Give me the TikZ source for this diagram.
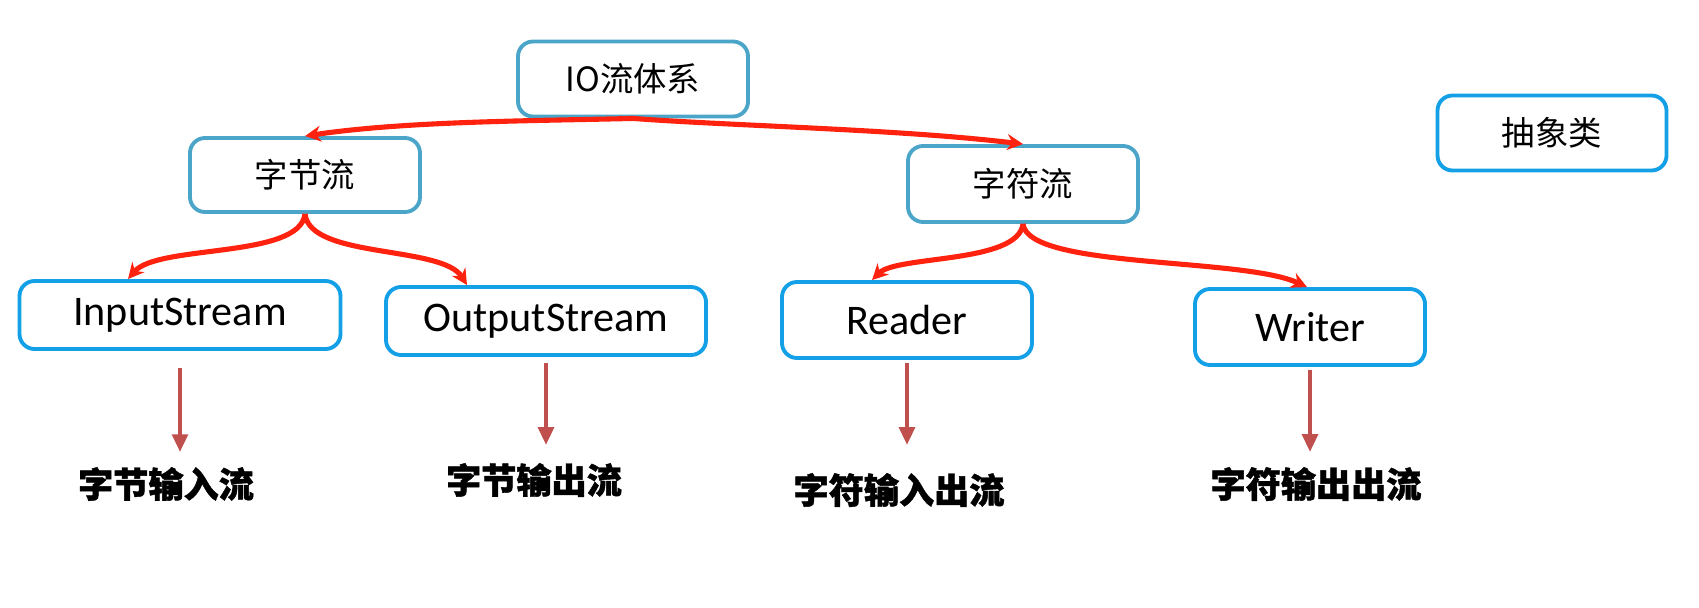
\documentclass[tikz,border=0pt]{standalone}
\usepackage{fontspec}
\setmainfont{Carlito}
\newfontfamily\cjk{Noto Sans CJK SC}[BoldFeatures={FakeBold=1.2}]
\usetikzlibrary{arrows.meta,positioning,calc}
\definecolor{topblue}{RGB}{75,165,200}
\definecolor{boxblue}{RGB}{20,160,230}
\definecolor{linkred}{RGB}{255,35,15}
\definecolor{downred}{RGB}{192,80,77}
\tikzstyle{topbox} = [draw=topblue, line width=2.2pt, rounded corners=0.3cm, fill=white, minimum width=4.6cm, minimum height=1.5cm, font=\cjk\fontsize{19}{23}\selectfont]
\tikzstyle{classbox} = [draw=boxblue, line width=2.2pt, rounded corners=0.3cm, fill=white, minimum height=1.36cm, font=\fontsize{24}{28}\selectfont]
\tikzstyle{redlink} = [draw=linkred, line width=2.9pt, -{Stealth[length=9pt,width=9pt]}]
\tikzstyle{downarrow} = [draw=downred, line width=1.9pt, -{Triangle[length=10pt,width=9pt]}]
\tikzstyle{streamtext} = [inner sep=0pt, font=\cjk\bfseries\fontsize{20}{24}\selectfont]

\begin{document}
\begin{tikzpicture}
    \useasboundingbox (0,0) rectangle (33.98,12.14);

    % Root and the two stream kinds
    \node[topbox] (io) at (12.66,10.56) {IO流体系};
    \node[topbox, minimum height=1.48cm] (bytes) at (6.10,8.64) {字节流};
    \node[topbox, minimum height=1.52cm] (chars) at (20.46,8.46) {字符流};

    % Legend
    \node[classbox, minimum width=4.58cm, minimum height=1.5cm, font=\cjk\fontsize{19}{23}\selectfont] (abs) at (31.04,9.48) {抽象类};

    % Abstract classes
    \node[classbox, minimum width=6.42cm] (ins) at (3.60,5.84) {InputStream};
    \node[classbox, minimum width=6.4cm] (outs) at (10.92,5.72) {OutputStream};
    \node[classbox, minimum width=5.0cm, minimum height=1.52cm] (rd) at (18.14,5.74) {Reader};
    \node[classbox, minimum width=4.6cm, minimum height=1.52cm] (wr) at (26.20,5.60) {Writer};

    % Descriptions
    \node[streamtext] (insl) at (3.32,2.46) {字节输入流};
    \node[streamtext] (outsl) at (10.68,2.54) {字节输出流};
    \node[streamtext] (rdl) at (17.98,2.34) {字符输入出流};
    \node[streamtext] (wrl) at (26.32,2.46) {字符输出出流};

    % Branches from the root
    \draw[redlink] (io.south) .. controls +(-2,-0.05) and +(2,0.3) .. (bytes.north);
    \draw[redlink] (io.south) .. controls +(2,-0.15) and +(-2.5,0.3) .. (chars.north);

    % Byte streams
    \draw[redlink] (bytes.south) .. controls +(-0.1,-0.9) and +(0.6,0.7) .. ([xshift=-1.04cm]ins.north);
    \draw[redlink] (bytes.south) .. controls +(0.1,-0.9) and +(-0.5,0.8) .. ([xshift=-1.58cm]outs.north);

    % Character streams
    \draw[redlink] (chars.south) .. controls +(-0.1,-0.8) and +(0.5,0.5) .. ([xshift=-0.7cm]rd.north);
    \draw[redlink] (chars.south) .. controls +(0.1,-0.9) and +(-1.3,0.6) .. ([xshift=-0.06cm]wr.north);

    % Meaning of each class
    \draw[downarrow, shorten <=0.34cm, shorten >=0.30cm] (ins.south) -- (ins.south |- insl.north);
    \draw[downarrow, shorten <=0.12cm, shorten >=0.36cm] (outs.south) -- (outs.south |- outsl.north);
    \draw[downarrow, shorten <=0.06cm, shorten >=0.56cm] (rd.south) -- (rd.south |- rdl.north);
    \draw[downarrow, shorten <=0.06cm, shorten >=0.30cm] (wr.south) -- (wr.south |- wrl.north);
\end{tikzpicture}
\end{document}
